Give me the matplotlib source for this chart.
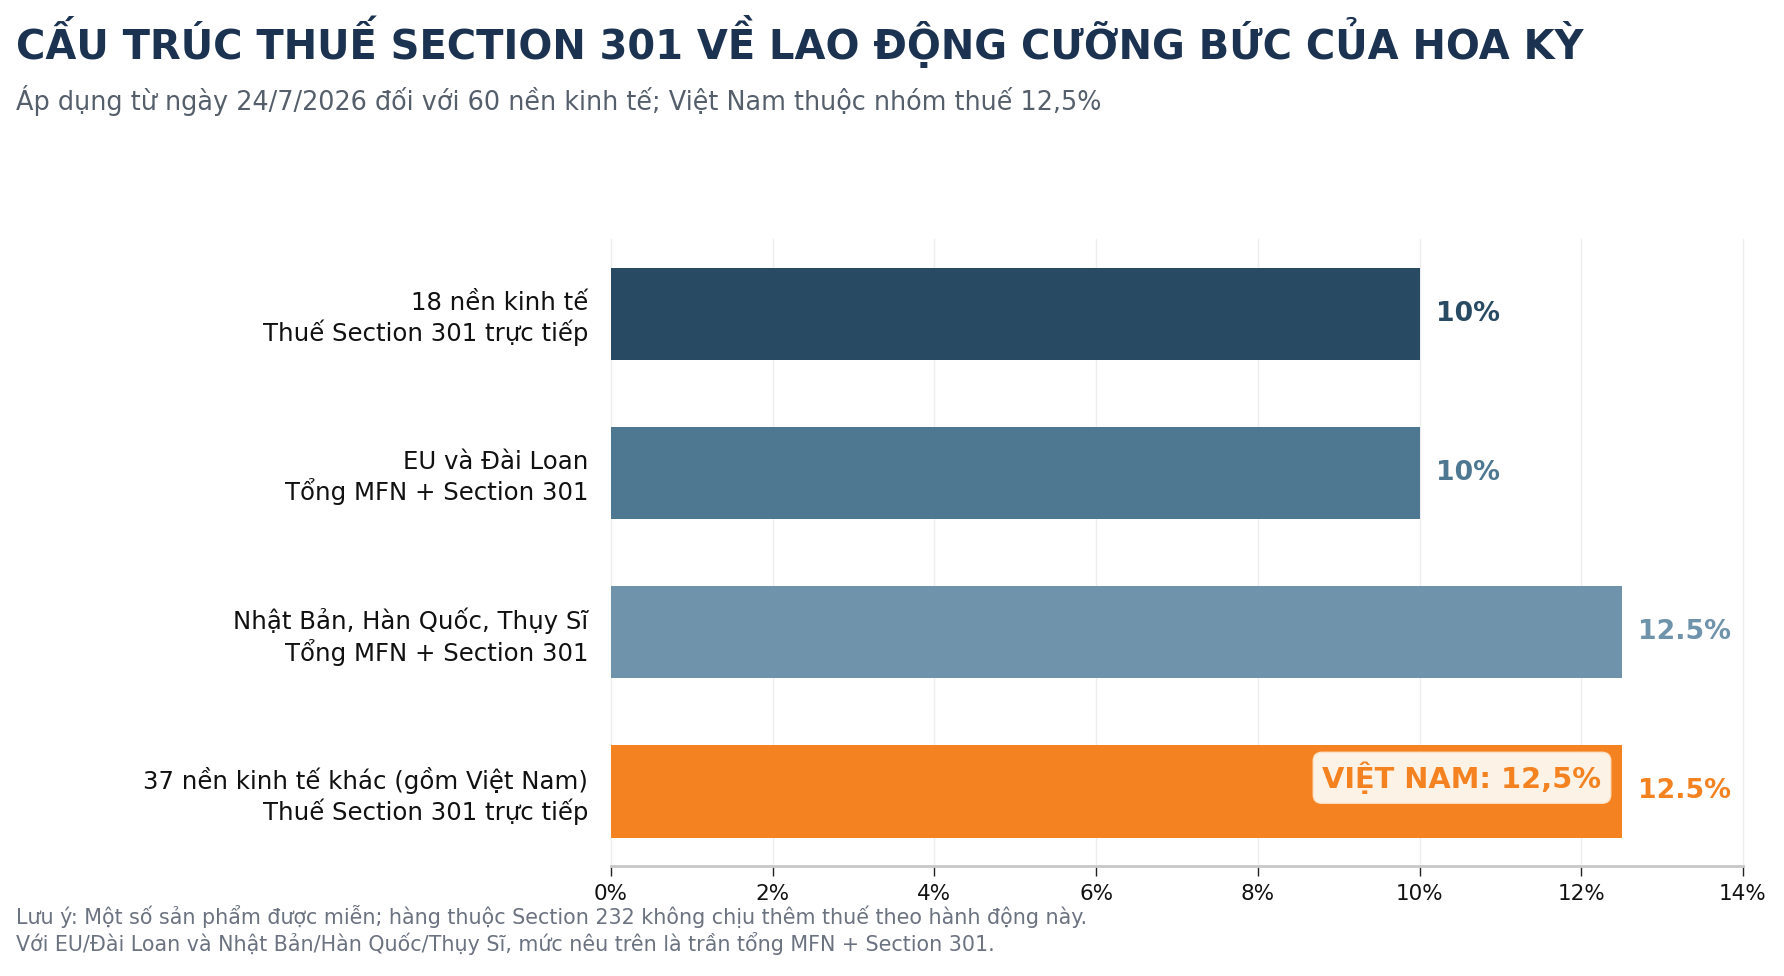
import matplotlib
matplotlib.use("Agg")
import matplotlib.pyplot as plt
from matplotlib.ticker import FuncFormatter

categories = [
    "18 nền kinh tế\nThuế Section 301 trực tiếp",
    "EU và Đài Loan\nTổng MFN + Section 301",
    "Nhật Bản, Hàn Quốc, Thụy Sĩ\nTổng MFN + Section 301",
    "37 nền kinh tế khác (gồm Việt Nam)\nThuế Section 301 trực tiếp",
]
values = [10, 10, 12.5, 12.5]
bar_colors = ["#284b63", "#4e7792", "#6e93aa", "#f58220"]
xticks = [0, 2, 4, 6, 8, 10, 12, 14]

title = "CẤU TRÚC THUẾ SECTION 301 VỀ LAO ĐỘNG CƯỠNG BỨC CỦA HOA KỲ"
subtitle = "Áp dụng từ ngày 24/7/2026 đối với 60 nền kinh tế; Việt Nam thuộc nhóm thuế 12,5%"
note1 = "Lưu ý: Một số sản phẩm được miễn; hàng thuộc Section 232 không chịu thêm thuế theo hành động này."
note2 = "Với EU/Đài Loan và Nhật Bản/Hàn Quốc/Thụy Sĩ, mức nêu trên là trần tổng MFN + Section 301."
highlight = "VIỆT NAM: 12,5%"

plt.rcParams['font.family'] = ['DejaVu Sans']

W, H = 1784, 976
fig = plt.figure(figsize=(W / 100, H / 100), dpi=100)
fig.patch.set_facecolor("white")

ax = fig.add_axes([611 / W, 1 - 866 / H, 1132 / W, 627 / H])
ypos = list(range(len(categories)))
ax.barh(ypos, values, height=0.58, color=bar_colors, zorder=3)
ax.set_yticks(ypos)
ax.set_yticklabels(categories, fontsize=17.55, color="#111111", ha="right")
ax.invert_yaxis()
ax.set_xlim(0, 14)
ax.set_xticks(xticks)
ax.xaxis.set_major_formatter(FuncFormatter(lambda v, p: f"{v:g}%"))
ax.tick_params(axis="x", labelsize=15.5, length=7, width=1, color="#222222", labelcolor="#111111", pad=6)
ax.tick_params(axis="y", length=0, pad=16.5)
ax.grid(axis="x", color="#eeeeee", linewidth=1, zorder=0)
ax.grid(axis="y", visible=False)
for gl in ax.get_xgridlines():
    gl.set_clip_on(False)
for s in ["top", "right", "left"]:
    ax.spines[s].set_visible(False)
ax.spines["bottom"].set_color("#c8c8c8")
ax.spines["bottom"].set_linewidth(2)
ax.set_axisbelow(True)

for i, (v, c) in enumerate(zip(values, bar_colors)):
    ax.text(v + 0.2, i, f"{v:g}%", va="center", ha="left", fontsize=19.3,
            fontweight="bold", color=c, zorder=4)

ax.text(12.25, 3 - 0.085, highlight, ha="right", va="center", fontsize=20.8,
        fontweight="bold", color="#f58220", zorder=5,
        bbox=dict(boxstyle="round,pad=0.32,rounding_size=0.3", fc="#fdf2e6", ec="#fbe3c8", lw=1))

fig.text(16 / W, 1 - 59 / H, title, fontsize=28.8, fontweight="bold", color="#1b3350", va="baseline", ha="left")
fig.text(16 / W, 1 - 110 / H, subtitle, fontsize=18.4, color="#555f6b", va="baseline", ha="left")
fig.text(16 / W, 1 - 924 / H, note1, fontsize=14.9, color="#6b7280", va="baseline", ha="left")
fig.text(16 / W, 1 - 951 / H, note2, fontsize=14.9, color="#6b7280", va="baseline", ha="left")

fig.savefig("out.png", dpi=100)
